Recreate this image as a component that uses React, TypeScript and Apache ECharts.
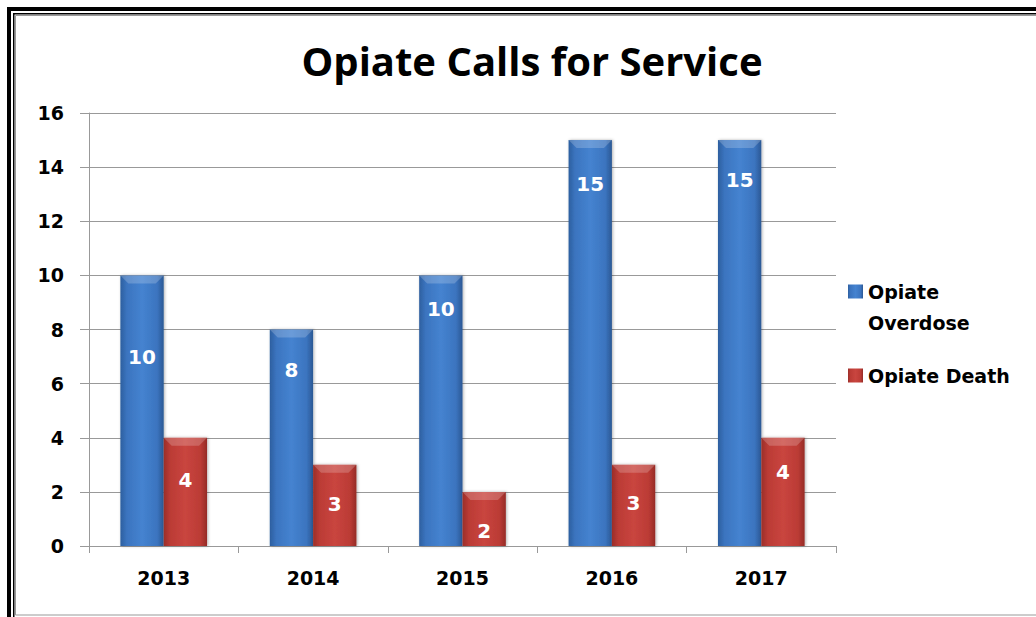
import React, { useEffect, useRef } from "react";
import * as echarts from "echarts";

const title = "Opiate Calls for Service";
const years = ["2013", "2014", "2015", "2016", "2017"];
const overdose = [10, 8, 10, 15, 15];
const death = [4, 3, 2, 3, 4];
const seriesNames = ["Opiate Overdose", "Opiate Death"];
const yTicks = { min: 0, max: 16, interval: 2 };
// label offsets (px from top of bar)
const overdoseLabelY = [82, 40, 34, 44, 40];
const deathLabelY = [42, 39, 39, 38, 34];

const FONT = "DejaVu Sans";
const BAR_FRAC = 0.29;

export default function App() {
  const ref = useRef<HTMLDivElement>(null);
  useEffect(() => {
    document.body.style.margin = "0";
    const chart = echarts.init(ref.current!, null, { renderer: "svg" });
    const blue = new echarts.graphic.LinearGradient(0, 0, 1, 0, [
      { offset: 0, color: "#2d5f9f" },
      { offset: 0.15, color: "#3b74bf" },
      { offset: 0.5, color: "#4583d0" },
      { offset: 0.85, color: "#3b74bf" },
      { offset: 1, color: "#2b5894" },
    ]);
    const red = new echarts.graphic.LinearGradient(0, 0, 1, 0, [
      { offset: 0, color: "#9a2e29" },
      { offset: 0.15, color: "#bb3b35" },
      { offset: 0.5, color: "#c9453f" },
      { offset: 0.85, color: "#bb3b35" },
      { offset: 1, color: "#952b26" },
    ]);
    const mkLabel = (y: number) => ({
      show: true,
      position: ["50%", y],
      align: "center",
      verticalAlign: "middle",
      color: "#ffffff",
      fontFamily: FONT,
      fontWeight: "bold",
      fontSize: 20,
    });
    const bevelData = [
      ...overdose.map((v, i) => [i, v, -1]),
      ...death.map((v, i) => [i, v, 1]),
    ];
    chart.setOption({
      animation: false,
      backgroundColor: "#ffffff",
      graphic: [
        { type: "rect", shape: { x: 9, y: 9, width: 1200, height: 800 }, style: { fill: "none", stroke: "#000", lineWidth: 4 }, silent: true },
        { type: "rect", shape: { x: 13.75, y: 13.75, width: 1200, height: 800 }, style: { fill: "none", stroke: "#000", lineWidth: 1.5 }, silent: true },
        { type: "rect", shape: { x: 15.5, y: 15.5, width: 1200, height: 599.5 }, style: { fill: "none", stroke: "#999", lineWidth: 1 }, silent: true },
        {
          type: "text",
          x: 532,
          y: 60,
          style: {
            text: title,
            align: "center",
            verticalAlign: "middle",
            fontFamily: "Open Sans",
            fontWeight: "bold",
            fontSize: 40,
            fill: "#000",
          },
        },
      ],
      legend: {
        orient: "vertical",
        left: 848,
        top: 245,
        padding: 0,
        icon: "rect",
        itemWidth: 15,
        itemHeight: 14,
        itemGap: 22,
        selectedMode: false,
        data: [
          { name: seriesNames[0], textStyle: { lineHeight: 31 } },
          { name: seriesNames[1], textStyle: { lineHeight: 31 } },
        ],
        formatter: (n: string) => (n === seriesNames[0] ? " \nOpiate\nOverdose" : n),
        textStyle: { fontFamily: FONT, fontWeight: "bold", fontSize: 19, color: "#000" },
      },
      grid: { left: 89, top: 113, right: 200, bottom: 71, containLabel: false },
      xAxis: {
        type: "category",
        data: years,
        axisLine: { lineStyle: { color: "#999", width: 1 } },
        axisTick: { show: true, length: 7, lineStyle: { color: "#999" } },
        axisLabel: { margin: 22, fontFamily: FONT, fontWeight: "bold", fontSize: 19, color: "#000" },
      },
      yAxis: {
        type: "value",
        min: yTicks.min,
        max: yTicks.max,
        interval: yTicks.interval,
        axisLine: { show: true, lineStyle: { color: "#999", width: 1 } },
        axisTick: { show: true, length: 9, lineStyle: { color: "#999" } },
        splitLine: { show: true, lineStyle: { color: "#999", width: 1 } },
        axisLabel: { margin: 25, fontFamily: FONT, fontWeight: "bold", fontSize: 19, color: "#000" },
      },
      series: [
        {
          name: seriesNames[0],
          type: "bar",
          barWidth: BAR_FRAC * 100 + "%",
          barGap: "0%",
          itemStyle: { color: blue, shadowColor: "rgba(0,0,0,0.3)", shadowBlur: 3, shadowOffsetX: 1 },
          data: overdose.map((v, i) => ({ value: v, label: mkLabel(overdoseLabelY[i]) })),
        },
        {
          name: seriesNames[1],
          type: "bar",
          barWidth: BAR_FRAC * 100 + "%",
          barGap: "0%",
          itemStyle: { color: red, shadowColor: "rgba(0,0,0,0.3)", shadowBlur: 3, shadowOffsetX: 1 },
          data: death.map((v, i) => ({ value: v, label: mkLabel(deathLabelY[i]) })),
        },
        {
          name: "bevel",
          type: "custom",
          silent: true,
          z: 3,
          encode: { x: 0, y: 1 },
          data: bevelData,
          renderItem: (params: any, api: any) => {
            const cat = api.value(0);
            const v = api.value(1);
            const side = api.value(2);
            const top = api.coord([cat, v]);
            const bw = api.size([1, 0])[0] * BAR_FRAC;
            const cx = top[0] + (side * bw) / 2;
            const xl = cx - bw / 2;
            const xr = cx + bw / 2;
            const y0 = top[1];
            const d = 8;
            return {
              type: "polygon",
              shape: { points: [[xl, y0], [xr, y0], [xr - d, y0 + d], [xl + d, y0 + d]] },
              style: { fill: "rgba(255,255,255,0.2)" },
            };
          },
        },
      ],
    });
    return () => chart.dispose();
  }, []);
  return <div ref={ref} style={{ width: 1036, height: 617 }} />;
}
